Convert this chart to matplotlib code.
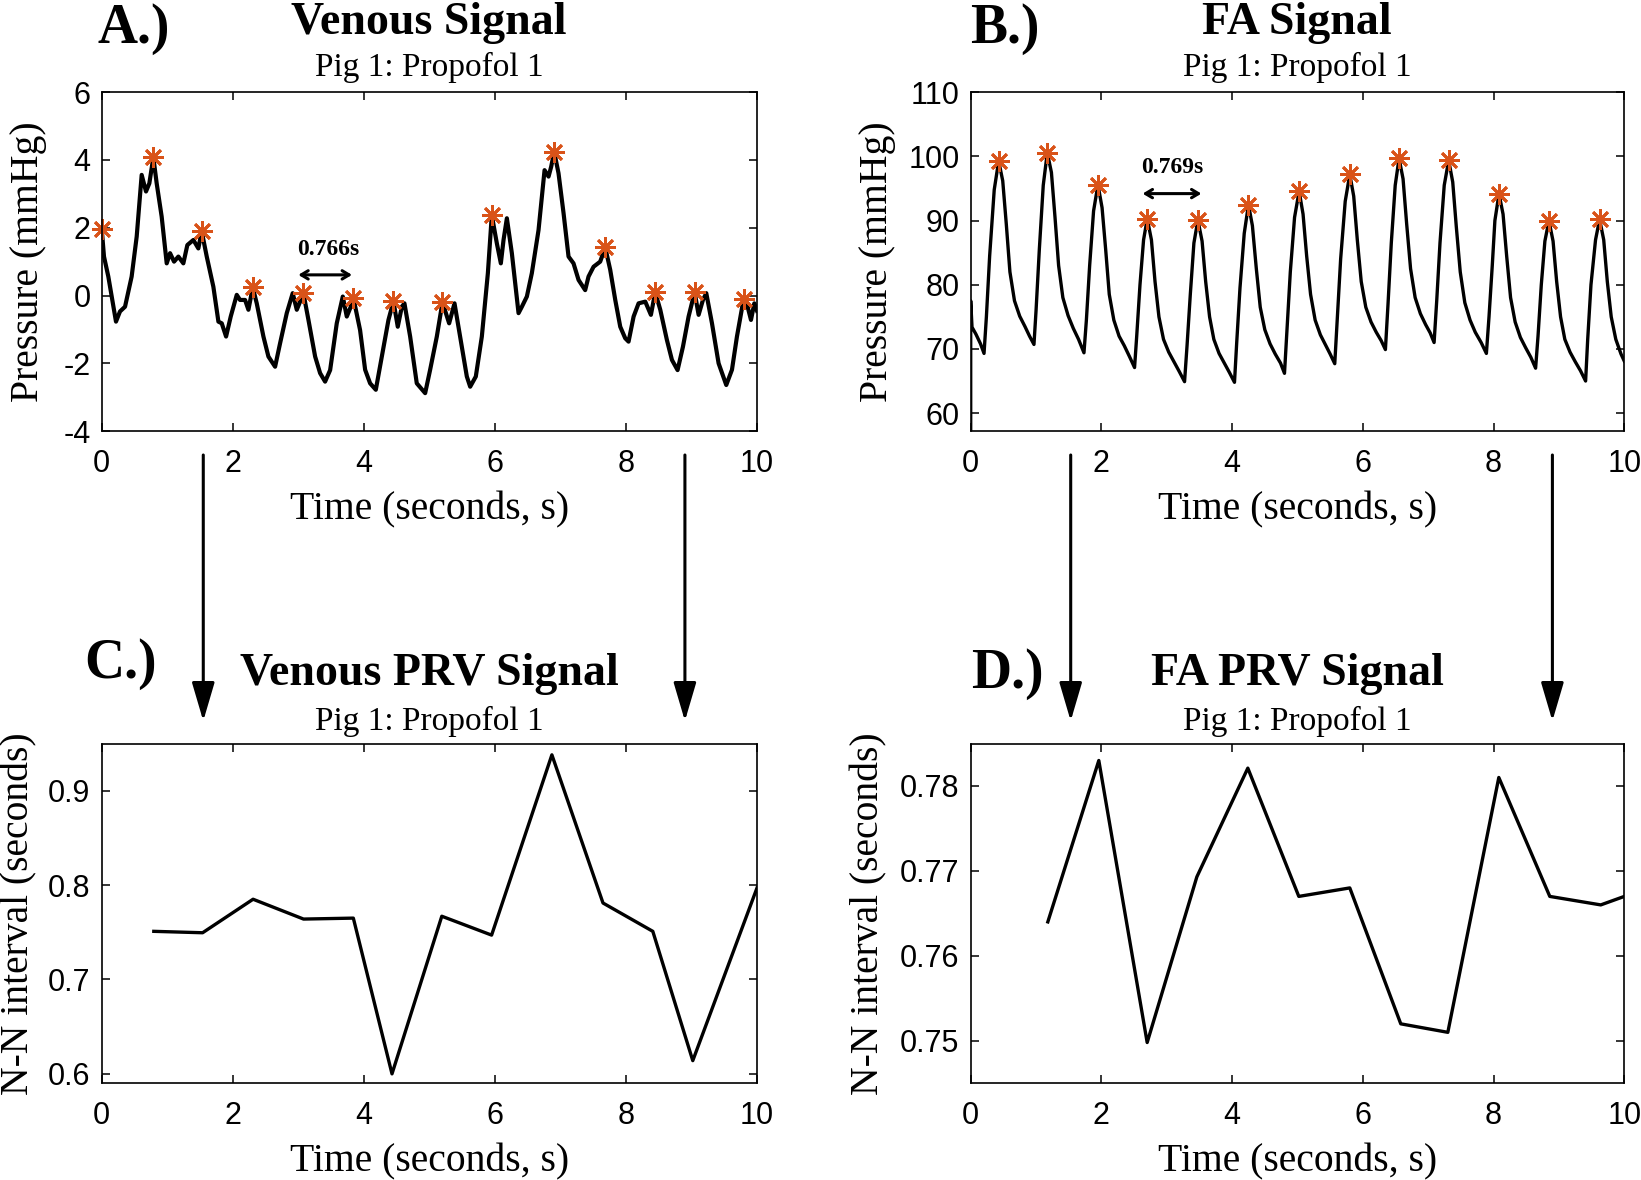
import matplotlib
matplotlib.use("Agg")
import matplotlib.pyplot as plt
from matplotlib.patches import FancyArrowPatch

plt.rcParams['font.family'] = ['Liberation Serif', 'DejaVu Serif']
plt.rcParams['axes.unicode_minus'] = False

# ---------------- data ----------------
# venous pressure trace (time s, pressure mmHg)
ven_t = [0.0, 0.035, 0.101, 0.218, 0.279, 0.356, 0.457, 0.534, 0.610, 0.676, 0.727, 0.788, 0.839,
         0.915, 0.992, 1.043, 1.104, 1.170, 1.246, 1.307, 1.399, 1.475, 1.526, 1.603, 1.704,
         1.781, 1.832, 1.898, 1.969, 2.061, 2.111, 2.188, 2.239, 2.305, 2.366, 2.468, 2.544,
         2.646, 2.722, 2.824, 2.915, 2.977, 3.017, 3.078, 3.155, 3.257, 3.333, 3.409, 3.486,
         3.587, 3.679, 3.740, 3.801, 3.842, 3.943, 4.020, 4.096, 4.183, 4.274, 4.376, 4.452,
         4.518, 4.580, 4.620, 4.707, 4.808, 4.936, 5.012, 5.114, 5.200, 5.302, 5.384, 5.470,
         5.572, 5.623, 5.709, 5.801, 5.893, 5.953, 6.030, 6.091, 6.132, 6.183, 6.259, 6.361,
         6.412, 6.488, 6.564, 6.666, 6.758, 6.819, 6.859, 6.905, 6.971, 7.048, 7.124, 7.200,
         7.277, 7.378, 7.429, 7.506, 7.607, 7.684, 7.760, 7.837, 7.913, 7.989, 8.040, 8.117,
         8.193, 8.295, 8.381, 8.447, 8.524, 8.625, 8.702, 8.788, 8.870, 8.956, 9.048, 9.109,
         9.175, 9.226, 9.313, 9.414, 9.531, 9.618, 9.694, 9.796, 9.857, 9.908, 9.959, 10.0]
ven_p = [1.97, 1.15, 0.56, -0.77, -0.47, -0.33, 0.56, 1.74, 3.56, 3.07, 3.31, 4.08, 3.31,
         2.33, 0.95, 1.25, 1.00, 1.15, 0.95, 1.49, 1.64, 1.39, 1.90, 1.15, 0.26,
         -0.77, -0.82, -1.21, -0.62, 0.02, -0.13, -0.13, -0.42, 0.24, -0.23, -1.21, -1.80,
         -2.10, -1.41, -0.52, 0.07, -0.42, -0.23, 0.07, -0.72, -1.80, -2.29, -2.54, -2.20,
         -0.82, -0.03, -0.62, -0.33, -0.08, -1.02, -2.19, -2.59, -2.78, -1.80, -0.72, -0.17,
         -0.92, -0.33, -0.23, -1.21, -2.59, -2.88, -2.19, -1.21, -0.20, -0.82, -0.23, -1.21,
         -2.39, -2.69, -2.39, -1.21, 0.66, 2.37, 1.54, 0.95, 1.64, 2.28, 1.25, -0.52,
         -0.33, -0.03, 0.66, 1.93, 3.70, 3.51, 3.80, 4.24, 3.61, 2.43, 1.15, 0.95,
         0.46, 0.16, 0.56, 0.85, 1.00, 1.42, 0.76, -0.13, -0.92, -1.26, -1.36, -0.62,
         -0.23, -0.18, -0.57, 0.10, -0.42, -1.31, -1.90, -2.20, -1.51, -0.62, 0.10, -0.57,
         -0.13, 0.07, -0.82, -2.00, -2.64, -2.19, -1.21, -0.10, -0.33, -0.72, -0.23, -0.45]
ven_peak_t = [0.0, 0.788, 1.526, 2.305, 3.078, 3.842, 4.452, 5.200, 5.953, 6.905, 7.684, 8.447, 9.048, 9.796]
ven_peak_p = [1.97, 4.08, 1.90, 0.24, 0.07, -0.08, -0.17, -0.20, 2.37, 4.24, 1.42, 0.10, 0.10, -0.10]

# femoral artery pressure trace
fa_t = [0.0, 0.0, 0.02, 0.08, 0.15, 0.204,
        0.24, 0.29, 0.36, 0.428, 0.49, 0.545, 0.60, 0.67, 0.75, 0.83, 0.90, 0.968,
        1.00, 1.05, 1.11, 1.172, 1.235, 1.29, 1.345, 1.41, 1.49, 1.57, 1.65, 1.733,
        1.77, 1.82, 1.88, 1.947, 2.01, 2.065, 2.12, 2.19, 2.27, 2.35, 2.43, 2.507,
        2.54, 2.59, 2.645, 2.701, 2.765, 2.82, 2.88, 2.95, 3.03, 3.11, 3.19, 3.272,
        3.31, 3.36, 3.415, 3.476, 3.54, 3.595, 3.655, 3.72, 3.80, 3.88, 3.96, 4.036,
        4.07, 4.12, 4.185, 4.25, 4.31, 4.37, 4.43, 4.50, 4.58, 4.66, 4.74, 4.801,
        4.84, 4.89, 4.955, 5.025, 5.085, 5.14, 5.20, 5.27, 5.35, 5.43, 5.50, 5.57,
        5.61, 5.66, 5.73, 5.80, 5.86, 5.915, 5.975, 6.045, 6.125, 6.205, 6.28, 6.345,
        6.385, 6.435, 6.495, 6.554, 6.615, 6.67, 6.73, 6.80, 6.88, 6.96, 7.03, 7.09,
        7.13, 7.18, 7.245, 7.313, 7.375, 7.43, 7.49, 7.56, 7.64, 7.72, 7.81, 7.89,
        7.93, 7.98, 8.02, 8.083, 8.145, 8.20, 8.26, 8.33, 8.41, 8.49, 8.57, 8.643,
        8.68, 8.73, 8.785, 8.847, 8.91, 8.965, 9.025, 9.09, 9.17, 9.25, 9.33, 9.408,
        9.44, 9.49, 9.56, 9.622, 9.685, 9.74, 9.80, 9.87, 9.95, 10.0]
fa_p = [57.2, 77.5, 73.4, 72.3, 70.8, 69.3,
        75.0, 84.5, 94.8, 99.3, 96.2, 89.4, 82.0, 77.5, 75.1, 73.5, 72.0, 70.7,
        76.0, 85.5, 95.5, 100.6, 97.5, 90.5, 83.0, 78.0, 75.2, 73.2, 71.5, 69.4,
        74.5, 83.0, 91.5, 95.6, 92.0, 85.5, 78.5, 74.5, 72.0, 70.5, 68.8, 67.1,
        72.0, 80.0, 87.0, 90.3, 87.0, 80.5, 75.0, 71.5, 69.5, 68.0, 66.5, 64.9,
        70.5, 78.5, 86.5, 90.1, 86.8, 80.5, 75.0, 71.5, 69.3, 67.8, 66.3, 64.8,
        71.0, 79.5, 88.0, 92.5, 89.2, 82.5, 76.5, 73.0, 70.8, 69.2, 67.8, 66.2,
        73.0, 82.0, 90.5, 94.6, 91.0, 84.5, 78.5, 74.5, 72.2, 70.6, 69.2, 67.7,
        75.0, 84.0, 93.0, 97.2, 93.8, 87.0, 80.5, 76.5, 74.2, 72.6, 71.3, 69.9,
        77.0, 86.5, 95.5, 99.7, 96.5, 89.5, 82.5, 78.0, 75.5, 73.8, 72.5, 71.0,
        77.5, 86.5, 95.5, 99.4, 96.0, 89.0, 82.0, 77.2, 74.5, 72.6, 71.0, 69.3,
        75.0, 83.0, 90.0, 94.2, 91.0, 84.5, 78.0, 74.2, 71.8, 70.2, 68.7, 67.0,
        72.0, 80.0, 86.8, 90.0, 86.8, 80.5, 75.0, 71.5, 69.5, 68.0, 66.6, 65.0,
        71.5, 80.0, 87.0, 90.2, 87.0, 80.5, 75.0, 71.5, 69.2, 68.1]
fa_peak_t = [0.428, 1.172, 1.947, 2.701, 3.476, 4.25, 5.025, 5.80, 6.554, 7.313, 8.083, 8.847, 9.622]
fa_peak_p = [99.3, 100.6, 95.6, 90.3, 90.1, 92.5, 94.6, 97.2, 99.7, 99.4, 94.2, 90.0, 90.2]

# N-N intervals
ven_nn_t = [0.795, 1.54, 2.31, 3.08, 3.84, 4.43, 5.19, 5.95, 6.87, 7.65, 8.41, 9.02, 10.0]
ven_nn = [0.751, 0.7495, 0.785, 0.764, 0.765, 0.600, 0.767, 0.747, 0.938, 0.781, 0.751, 0.614, 0.797]
fa_nn_t = [1.18, 1.96, 2.70, 3.46, 4.24, 5.02, 5.80, 6.58, 7.30, 8.08, 8.86, 9.64, 10.0]
fa_nn = [0.764, 0.783, 0.7498, 0.7693, 0.7821, 0.767, 0.768, 0.752, 0.751, 0.781, 0.767, 0.766, 0.767]

ven_yticks = [-4, -2, 0, 2, 4, 6]
fa_yticks = [60, 70, 80, 90, 100, 110]
ven_nn_yticks = [0.6, 0.7, 0.8, 0.9]
fa_nn_yticks = [0.75, 0.76, 0.77, 0.78]
xticks = [0, 2, 4, 6, 8, 10]

peak_color = '#D95319'
W, H = 1641, 1180

fig = plt.figure(figsize=(W / 100, H / 100), dpi=100)


def px_rect(left, top, right, bottom):
    return [left / W, 1 - bottom / H, (right - left) / W, (bottom - top) / H]


axA = fig.add_axes(px_rect(101.7, 92.2, 757, 431.1))
axB = fig.add_axes(px_rect(970.7, 92.2, 1624.3, 431.1))
axC = fig.add_axes(px_rect(101.7, 743.5, 757, 1083.3))
axD = fig.add_axes(px_rect(970.7, 743.5, 1624.3, 1083.3))


def style(ax, ylabel, ylab_x, yticks, ylim):
    ax.set_xlim(0, 10)
    ax.set_ylim(*ylim)
    ax.set_xticks(xticks)
    ax.set_yticks(yticks)
    ax.tick_params(direction='in', top=True, right=True, length=6, width=1.1)
    ax.tick_params(axis='x', pad=13)
    ax.tick_params(axis='y', pad=8)
    for lab in ax.get_xticklabels() + ax.get_yticklabels():
        lab.set_fontfamily(['Liberation Sans', 'DejaVu Sans'])
        lab.set_fontsize(22)
    for s in ax.spines.values():
        s.set_linewidth(1.2)
    ax.set_xlabel('Time (seconds, s)', fontsize=28.5, va='center')
    ax.xaxis.set_label_coords(0.5, -0.232)
    ax.set_ylabel(ylabel, fontsize=28.5, va='center')
    ax.yaxis.set_label_coords(ylab_x, 0.5)


# A: venous signal
axA.plot(ven_t, ven_p, color='black', lw=3.0, solid_joinstyle='round')
axA.plot(ven_peak_t, ven_peak_p, ls='none', marker=(8, 2, 0), ms=15, mew=2,
         color=peak_color, clip_on=False)
axA.annotate('', xy=(3.82, 0.61), xytext=(3.0, 0.61),
             arrowprops=dict(arrowstyle='<->,head_length=0.5,head_width=0.3', lw=2.2, color='black',
                             shrinkA=0, shrinkB=0))
axA.text(3.45, 1.35, '0.766s', fontsize=17, fontweight='bold', ha='center', va='center')
style(axA, 'Pressure (mmHg)', -0.111, ven_yticks, (-4, 6))

# B: FA signal
axB.plot(fa_t, fa_p, color='black', lw=2.4, solid_joinstyle='round')
axB.plot(fa_peak_t, fa_peak_p, ls='none', marker=(8, 2, 0), ms=15, mew=2,
         color=peak_color, clip_on=False)
axB.annotate('', xy=(3.53, 94.2), xytext=(2.63, 94.2),
             arrowprops=dict(arrowstyle='<->,head_length=0.5,head_width=0.3', lw=2.2, color='black',
                             shrinkA=0, shrinkB=0))
axB.text(3.09, 98.2, '0.769s', fontsize=17, fontweight='bold', ha='center', va='center')
style(axB, 'Pressure (mmHg)', -0.143, fa_yticks, (57.2, 110))

# C, D: PRV signals
axC.plot(ven_nn_t, ven_nn, color='black', lw=2.4)
style(axC, 'N-N interval (seconds)', -0.126, ven_nn_yticks, (0.59, 0.95))
axD.plot(fa_nn_t, fa_nn, color='black', lw=2.4)
style(axD, 'N-N interval (seconds)', -0.156, fa_nn_yticks, (0.745, 0.785))


# titles
def ftext(x, y, s, **kw):
    fig.text(x / W, 1 - y / H, s, va='baseline', **kw)


ftext(98, 43, 'A.)', fontsize=40, fontweight='bold')
ftext(970, 43, 'B.)', fontsize=40, fontweight='bold')
ftext(84, 678, 'C.)', fontsize=40, fontweight='bold')
ftext(971, 688, 'D.)', fontsize=40, fontweight='bold')
ftext(429, 34, 'Venous Signal', fontsize=33, fontweight='bold', ha='center')
ftext(1297, 34, 'FA Signal', fontsize=33, fontweight='bold', ha='center')
ftext(429, 685, 'Venous PRV Signal', fontsize=33, fontweight='bold', ha='center')
ftext(1297, 685, 'FA PRV Signal', fontsize=33, fontweight='bold', ha='center')
for cx, by in [(429, 76), (1297, 76), (429, 730), (1297, 730)]:
    ftext(cx, by, 'Pig 1: Propofol 1', fontsize=24, ha='center')

# connecting arrows
for ax, xs in [(axA, 1.55), (axA, 8.9), (axB, 1.53), (axB, 8.9)]:
    xf = ax.transData.transform((xs, 0))[0] / W
    fig.add_artist(FancyArrowPatch((xf, 1 - 455 / H), (xf, 1 - 721 / H),
                                   transform=fig.transFigure,
                                   arrowstyle='-|>,head_length=1.7,head_width=0.5',
                                   mutation_scale=14, lw=2.2, color='black',
                                   shrinkA=0, shrinkB=0))

fig.savefig('out.png', dpi=100)
